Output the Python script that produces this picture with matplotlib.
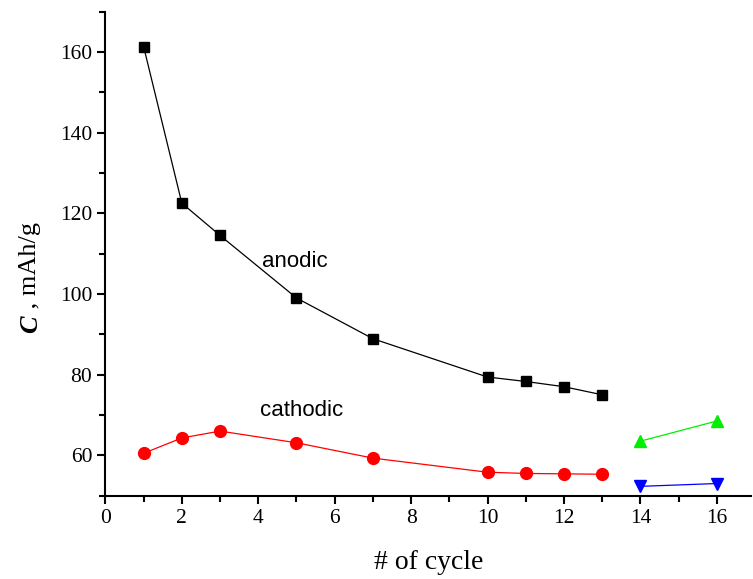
import matplotlib
matplotlib.use('Agg')

import matplotlib.pyplot as plt
from matplotlib.ticker import MultipleLocator

# Data
anodic_x = [1, 2, 3, 5, 7, 10, 11, 12, 13]
anodic_y = [161.3, 122.5, 114.5, 99.0, 88.9, 79.4, 78.3, 77.0, 75.0]
cathodic_x = [1, 2, 3, 5, 7, 10, 11, 12, 13]
cathodic_y = [60.5, 64.3, 66.0, 63.1, 59.3, 55.8, 55.5, 55.4, 55.3]
green_x = [14, 16]
green_y = [63.5, 68.5]
blue_x = [14, 16]
blue_y = [52.3, 53.0]

serif = 'Liberation Serif'
sans = 'Liberation Sans'

fig = plt.figure(figsize=(7.53, 5.79), dpi=100)
ax = fig.add_axes([0.140, 0.144, 0.8576, 0.836])

ax.plot(anodic_x, anodic_y, color='black', lw=0.9, marker='s', ms=7.5)
ax.plot(cathodic_x, cathodic_y, color='red', lw=0.9, marker='o', ms=8.5)
ax.plot(green_x, green_y, color='#00ee00', lw=0.9, marker='^', ms=9)
ax.plot(blue_x, blue_y, color='blue', lw=0.9, marker='v', ms=9)

ax.text(4.96, 108, 'anodic', fontfamily=sans, fontsize=16, ha='center', va='center')
ax.text(5.14, 71.1, 'cathodic', fontfamily=sans, fontsize=16, ha='center', va='center')

ax.set_xlim(0, 16.9)
ax.set_ylim(50, 170)
ax.xaxis.set_major_locator(MultipleLocator(2))
ax.xaxis.set_minor_locator(MultipleLocator(1))
ax.yaxis.set_major_locator(MultipleLocator(20))
ax.yaxis.set_minor_locator(MultipleLocator(10))
ax.set_yticks([60, 80, 100, 120, 140, 160])

for s in ['top', 'right']:
    ax.spines[s].set_visible(False)
for s in ['left', 'bottom']:
    ax.spines[s].set_linewidth(1.5)
ax.tick_params(which='major', direction='out', length=6, width=1.5, labelsize=15.5)
ax.tick_params(which='minor', direction='out', length=4, width=1.5)
for lab in ax.get_xticklabels() + ax.get_yticklabels():
    lab.set_fontfamily(serif)

ax.set_xlabel('# of cycle', fontfamily=serif, fontsize=20, labelpad=16)

# y label: bold italic C followed by ", mAh/g"
c_txt = fig.text(0.040, 0.425, 'C', rotation=90, ha='center', va='bottom',
                 fontfamily=serif, fontsize=19, fontweight='bold', fontstyle='italic')
fig.canvas.draw()
bb = c_txt.get_window_extent()
ytop = bb.y1 / fig.bbox.height
fig.text(0.040, ytop, ' , mAh/g', rotation=90, ha='center', va='bottom',
         fontfamily=serif, fontsize=19)

plt.savefig('out.png', dpi=100)
